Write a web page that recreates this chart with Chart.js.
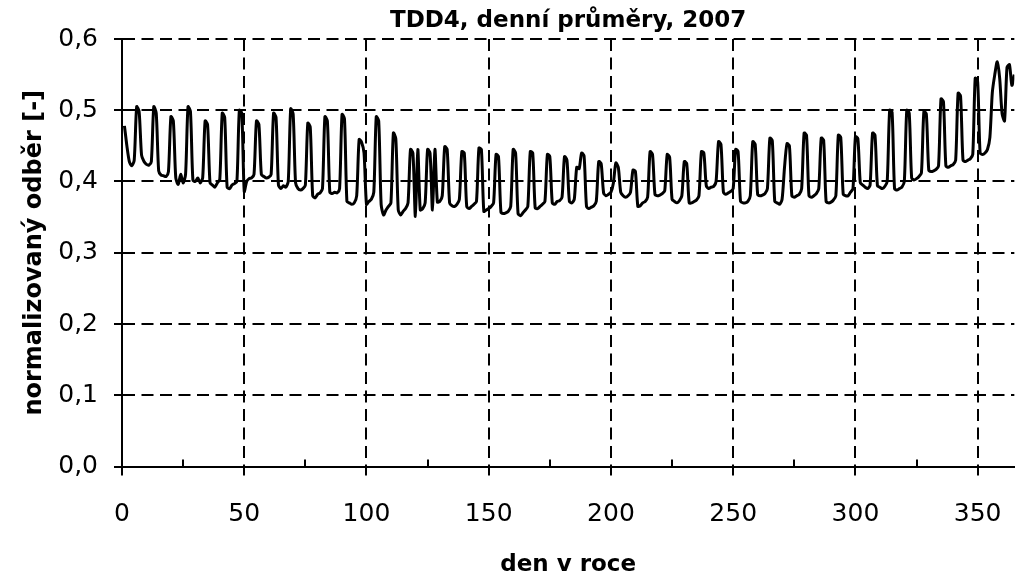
<!DOCTYPE html>
<html lang="cs">
<head>
<meta charset="utf-8">
<script src="https://cdn.jsdelivr.net/npm/chart.js@4/dist/chart.umd.min.js"></script>
<style>
  html, body { margin: 0; padding: 0; background: #fff; }
  #wrap { width: 1026px; height: 584px; }
</style>
</head>
<body>
<div id="wrap"><canvas id="tddChart" width="1026" height="584"></canvas></div>
<script>
// TDD4, denní průměry 2007 - jeden řádek = jeden týden (po..ne)
const odber = [
  0.478, 0.450, 0.428, 0.422, 0.430, 0.505, 0.498,
  0.437, 0.428, 0.424, 0.423, 0.428, 0.505, 0.496,
  0.415, 0.409, 0.408, 0.407, 0.414, 0.491, 0.485,
  0.405, 0.396, 0.410, 0.398, 0.410, 0.505, 0.498,
  0.402, 0.400, 0.405, 0.398, 0.405, 0.485, 0.480,
  0.398, 0.395, 0.392, 0.398, 0.403, 0.496, 0.490,
  0.392, 0.390, 0.395, 0.397, 0.400, 0.500, 0.496,
  0.386, 0.400, 0.404, 0.405, 0.410, 0.485, 0.480,
  0.410, 0.407, 0.405, 0.406, 0.410, 0.496, 0.490,
  0.395, 0.390, 0.394, 0.392, 0.400, 0.502, 0.495,
  0.398, 0.390, 0.388, 0.390, 0.395, 0.482, 0.476,
  0.380, 0.377, 0.382, 0.384, 0.390, 0.491, 0.485,
  0.385, 0.383, 0.385, 0.384, 0.390, 0.494, 0.488,
  0.372, 0.370, 0.368, 0.370, 0.380, 0.459, 0.455,
  0.440, 0.368, 0.372, 0.375, 0.385, 0.491, 0.485,
  0.368, 0.353, 0.360, 0.365, 0.370, 0.468, 0.460,
  0.360, 0.353, 0.358, 0.362, 0.370, 0.445, 0.440,
  0.351, 0.445, 0.360, 0.362, 0.370, 0.445, 0.440,
  0.360, 0.445, 0.371, 0.372, 0.380, 0.449, 0.445,
  0.370, 0.366, 0.365, 0.368, 0.375, 0.442, 0.440,
  0.365, 0.362, 0.365, 0.368, 0.372, 0.447, 0.445,
  0.358, 0.360, 0.362, 0.365, 0.370, 0.438, 0.435,
  0.357, 0.355, 0.356, 0.358, 0.365, 0.445, 0.440,
  0.355, 0.352, 0.356, 0.360, 0.365, 0.442, 0.440,
  0.363, 0.362, 0.365, 0.368, 0.372, 0.438, 0.435,
  0.370, 0.368, 0.372, 0.373, 0.378, 0.435, 0.430,
  0.372, 0.370, 0.375, 0.420, 0.418, 0.440, 0.436,
  0.365, 0.362, 0.364, 0.366, 0.372, 0.428, 0.425,
  0.384, 0.380, 0.382, 0.385, 0.398, 0.426, 0.420,
  0.385, 0.380, 0.378, 0.380, 0.385, 0.416, 0.414,
  0.365, 0.366, 0.370, 0.372, 0.378, 0.442, 0.438,
  0.382, 0.380, 0.381, 0.383, 0.387, 0.438, 0.434,
  0.375, 0.372, 0.370, 0.373, 0.380, 0.428, 0.425,
  0.370, 0.370, 0.372, 0.374, 0.380, 0.442, 0.440,
  0.394, 0.390, 0.392, 0.393, 0.400, 0.456, 0.452,
  0.385, 0.382, 0.384, 0.386, 0.390, 0.445, 0.442,
  0.372, 0.370, 0.370, 0.372, 0.380, 0.456, 0.452,
  0.382, 0.380, 0.381, 0.383, 0.390, 0.461, 0.457,
  0.372, 0.370, 0.368, 0.375, 0.420, 0.453, 0.450,
  0.380, 0.378, 0.380, 0.382, 0.390, 0.468, 0.465,
  0.380, 0.378, 0.380, 0.383, 0.390, 0.461, 0.458,
  0.372, 0.370, 0.371, 0.374, 0.380, 0.465, 0.462,
  0.382, 0.380, 0.380, 0.385, 0.390, 0.463, 0.460,
  0.398, 0.395, 0.392, 0.390, 0.395, 0.468, 0.465,
  0.394, 0.392, 0.390, 0.393, 0.400, 0.500, 0.497,
  0.390, 0.388, 0.390, 0.392, 0.400, 0.500, 0.496,
  0.405, 0.402, 0.404, 0.407, 0.412, 0.498, 0.495,
  0.416, 0.414, 0.415, 0.417, 0.422, 0.516, 0.512,
  0.422, 0.420, 0.422, 0.424, 0.430, 0.524, 0.520,
  0.430, 0.428, 0.430, 0.432, 0.438, 0.545, 0.540,
  0.440, 0.438, 0.440, 0.445, 0.462, 0.525, 0.550,
  0.568, 0.545, 0.495, 0.485, 0.560, 0.564, 0.535,
  0.550
];
// den v roce 1..365
const dny = odber.map((v, i) => i + 1);

const xTicks = [0, 50, 100, 150, 200, 250, 300, 350];
const xMinorTicks = [25, 75, 125, 175, 225, 275, 325];
const yTicks = [0, 0.1, 0.2, 0.3, 0.4, 0.5, 0.6];

const FONT = 'DejaVu Sans';

// male vnitrni znacky na ose x
const vedlejsiZnacky = {
  id: 'vedlejsiZnacky',
  afterDraw(chart) {
    const sx = chart.scales.x;
    const ctx = chart.ctx;
    ctx.save();
    ctx.strokeStyle = '#000';
    ctx.lineWidth = 2;
    xMinorTicks.forEach(v => {
      const px = Math.round(sx.getPixelForValue(v));
      ctx.beginPath();
      ctx.moveTo(px, sx.top);
      ctx.lineTo(px, sx.top - 7);
      ctx.stroke();
    });
    ctx.restore();
  }
};

new Chart(document.getElementById('tddChart'), {
  type: 'line',
  data: {
    datasets: [{
      data: dny.map((d, i) => ({ x: d, y: odber[i] })),
      borderColor: '#000',
      borderWidth: 3,
      pointRadius: 0,
      tension: 0.25,
      fill: false
    }]
  },
  options: {
    responsive: false,
    animation: false,
    devicePixelRatio: 1,
    layout: { padding: { left: 0, right: 11, top: 0, bottom: 0 } },
    plugins: {
      legend: { display: false },
      tooltip: { enabled: false },
      title: {
        display: true,
        fullSize: false,
        text: 'TDD4, denní průměry, 2007',
        color: '#000',
        font: { family: FONT, size: 23, weight: 'bold' },
        padding: { top: 7, bottom: 4.4 }
      }
    },
    scales: {
      x: {
        type: 'linear',
        min: 0,
        max: 365,
        afterBuildTicks: s => { s.ticks = xTicks.map(v => ({ value: v })); },
        afterFit: s => { s.height = 117.5; },
        grid: { color: '#000', lineWidth: 2, tickLength: 9, tickWidth: 2, tickColor: '#000' },
        border: { display: true, color: '#000', width: 2, dash: [12, 6.5] },
        ticks: {
          color: '#000',
          padding: 24,
          maxRotation: 0,
          font: { family: FONT, size: 25 }
        },
        title: {
          display: true,
          text: 'den v roce',
          color: '#000',
          font: { family: FONT, size: 23, weight: 'bold' },
          padding: { top: 0, bottom: 5 }
        }
      },
      y: {
        min: 0,
        max: 0.6,
        afterBuildTicks: s => { s.ticks = yTicks.map(v => ({ value: v })); },
        afterFit: s => { s.width = 122; },
        grid: { color: '#000', lineWidth: 2, tickLength: 8, tickWidth: 2, tickColor: '#000' },
        border: { display: true, color: '#000', width: 2, dash: [12, 6.5] },
        ticks: {
          color: '#000',
          padding: 16,
          font: { family: FONT, size: 25 },
          callback: v => v.toFixed(1).replace('.', ',')
        },
        title: {
          display: true,
          text: 'normalizovaný odběr [-]',
          color: '#000',
          font: { family: FONT, size: 24, weight: 'bold' },
          padding: { top: 20, bottom: 0 }
        }
      }
    }
  },
  plugins: [vedlejsiZnacky]
});
</script>
</body>
</html>
